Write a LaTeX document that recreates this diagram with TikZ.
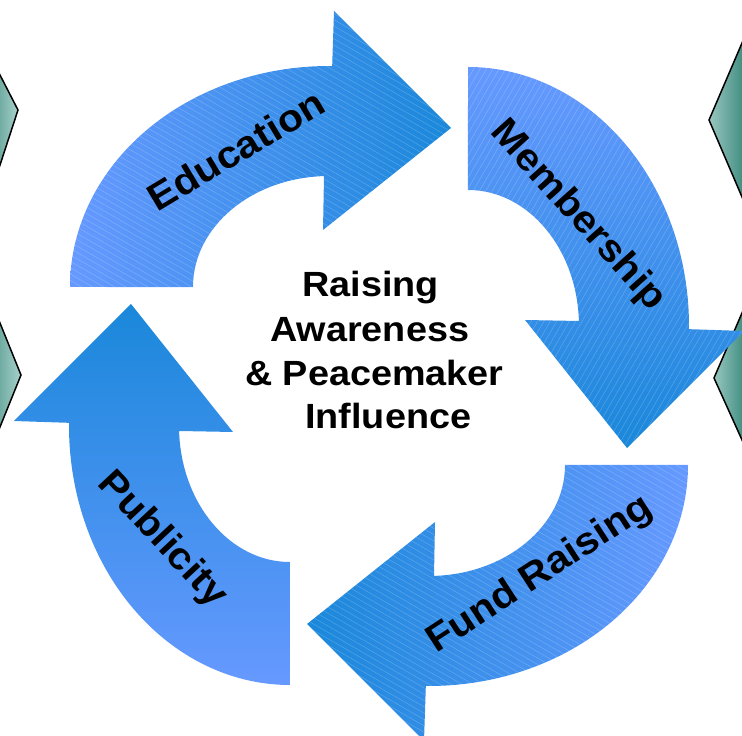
\documentclass[tikz,border=0pt]{standalone}
\usepackage{fontspec}
\setmainfont{Liberation Sans}
\newfontfamily\widebold[FakeStretch=1.08]{Liberation Sans Bold}
\definecolor{arrlight}{RGB}{102,153,255}
\definecolor{arrdark}{RGB}{26,136,218}
\definecolor{tealdark}{RGB}{62,138,126}
\definecolor{teallight}{RGB}{168,210,204}
\begin{document}
\begin{tikzpicture}[x=1bp,y=1bp,
  arrowshape/.style={insert path={(-309,89) arc[start angle=180,end angle=89.3,x radius=259,y radius=221] -- (-45,365) -- (72,248) -- (-56,146) -- (-55,199.9) arc[start angle=92.1,end angle=180,x radius=136,y radius=111] -- cycle}},
  stripe/.style={white,opacity=0.22,line width=0.5bp},
  centretext/.style={anchor=base west,inner sep=0,font=\fontsize{35bp}{42bp}\widebold},
  arrowlabel/.style={inner sep=0,font=\fontsize{38bp}{44bp}\widebold},
  chevronL/.style={draw=black,line width=1.5bp,left color=tealdark!60!teallight,right color=teallight},
  chevronR/.style={draw=black,line width=1.5bp,left color=teallight!85!tealdark,right color=tealdark}]
\useasboundingbox (0,0) rectangle (742,736);
\clip (0,0) rectangle (742,736);
% side chevrons
\path[chevronL] (-3,666.8) -- (18,626) -- (-3,561.8) -- cycle;
\path[chevronL] (-3,420.4) -- (21,361) -- (-3,301.6) -- cycle;
\path[chevronR] (745,700) -- (709,616) -- (745,532) -- cycle;
\path[chevronR] (745,430) -- (714,358) -- (745,289.4) -- cycle;
% Education
\begin{scope}[shift={(379,360)}]
  \path[left color=arrlight,right color=arrdark,arrowshape];
  \begin{scope}
    \clip[arrowshape];
    \foreach \k in {-80,...,80} \draw[stripe,rotate=-30] (-450,\k*5.5) -- (450,\k*5.5);
  \end{scope}
\end{scope}
% Membership
\begin{scope}[shift={(379,360)},rotate=-90]
  \path[top color=arrlight,bottom color=arrdark,arrowshape];
  \begin{scope}
    \clip[arrowshape];
    \foreach \k in {-80,...,80} \draw[stripe,rotate=-30] (-450,\k*5.5) -- (450,\k*5.5);
  \end{scope}
\end{scope}
% Fund Raising
\begin{scope}[shift={(379,360)},rotate=180]
  \path[left color=arrdark,right color=arrlight,arrowshape];
  \begin{scope}
    \clip[arrowshape];
    \foreach \k in {-80,...,80} \draw[stripe,rotate=-30] (-450,\k*5.5) -- (450,\k*5.5);
  \end{scope}
\end{scope}
% Publicity
\begin{scope}[shift={(379,360)},rotate=90]
  \path[top color=arrdark,bottom color=arrlight,arrowshape];
\end{scope}
% labels
\node[arrowlabel,rotate=31] (edu) at (236,586) {Education};
\node[arrowlabel,rotate=-48] (mem) at (578,520) {Membership};
\node[arrowlabel,rotate=33] (fund) at (540,161) {Fund Raising};
\node[arrowlabel,rotate=-47] (pub) at (162,196) {Publicity};
% centre text
\node[centretext] (c1) at (302,439) {Raising};
\node[centretext] (c2) at (270,394) {Awareness};
\node[centretext] (c3) at (245,350) {\& Peacemaker};
\node[centretext] (c4) at (305,307) {Influence};
\end{tikzpicture}
\end{document}
